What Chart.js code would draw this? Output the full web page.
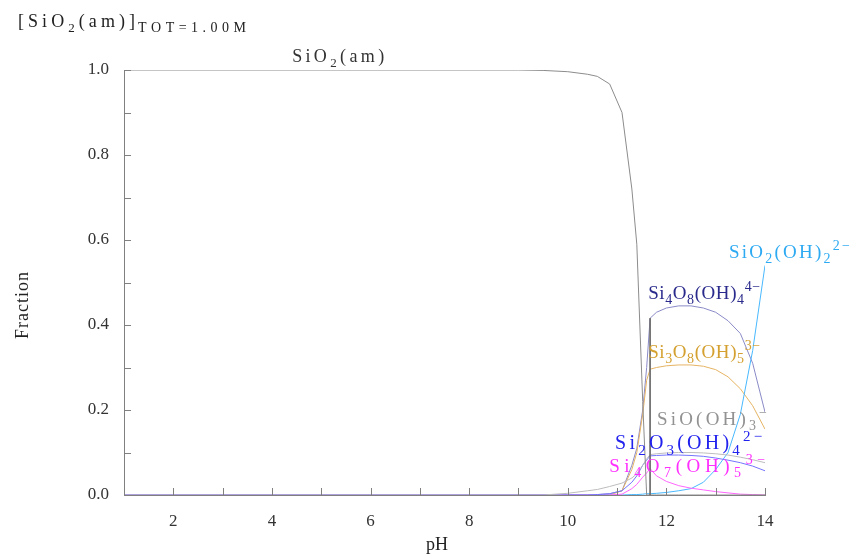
<!DOCTYPE html>
<html>
<head>
<meta charset="utf-8">
<script src="https://cdn.jsdelivr.net/npm/chart.js@4/dist/chart.umd.min.js"></script>
<style>
  html, body { margin: 0; padding: 0; background: #fff; }
  #wrap { width: 856px; height: 555px; position: relative; }
</style>
</head>
<body>
<div id="wrap"><canvas id="speciation"></canvas></div>
<script>
// pH grid shared by every species
const pH = [1, 9, 9.5, 10, 10.4, 10.6, 10.85, 11.1, 11.3, 11.4, 11.52, 11.6, 11.67, 11.8, 12, 12.25, 12.5, 12.75, 13, 13.25, 13.5, 13.75, 14];

// fractions
const sio2am   = [1, 1, 0.999, 0.996, 0.99, 0.985, 0.967, 0.9, 0.72, 0.59, 0.22, 0, 0, 0, 0, 0, 0, 0, 0, 0, 0, 0, 0];
const si4o8    = [0, 0, 0, 0, 0, 0.001, 0.003, 0.01, 0.07, 0.11, 0.2, 0.3, 0.416, 0.43, 0.44, 0.445, 0.445, 0.44, 0.43, 0.41, 0.38, 0.31, 0.195];
const si3o8    = [0, 0, 0, 0, 0, 0, 0, 0.01, 0.06, 0.1, 0.19, 0.27, 0.296, 0.3, 0.304, 0.306, 0.306, 0.303, 0.295, 0.278, 0.25, 0.21, 0.155];
const sio2oh2  = [0, 0, 0, 0, 0, 0, 0, 0, 0.001, 0.001, 0.002, 0.003, 0.003, 0.004, 0.006, 0.01, 0.015, 0.03, 0.06, 0.1, 0.19, 0.34, 0.54];
const siooh3   = [0, 0, 0, 0.004, 0.01, 0.013, 0.02, 0.028, 0.04, 0.05, 0.07, 0.085, 0.095, 0.097, 0.099, 0.1, 0.1, 0.099, 0.097, 0.094, 0.089, 0.083, 0.076];
const si2o3    = [0, 0, 0, 0, 0, 0.001, 0.003, 0.01, 0.03, 0.045, 0.07, 0.082, 0.092, 0.093, 0.094, 0.094, 0.093, 0.091, 0.087, 0.082, 0.076, 0.068, 0.057];
const si4o7    = [0, 0, 0, 0, 0, 0, 0, 0.002, 0.015, 0.025, 0.042, 0.052, 0.062, 0.045, 0.032, 0.022, 0.016, 0.012, 0.008, 0.005, 0.002, 0.001, 0];

// vertical marker where the solid disappears
const boundaryPH = [11.67, 11.67];
const boundaryFrac = [0.416, 0];

// axis ticks
const xTicks = [1, 2, 3, 4, 5, 6, 7, 8, 9, 10, 11, 12, 13, 14];
const xLabels = [2, 4, 6, 8, 10, 12, 14];

const FONT = '"Liberation Serif", "DejaVu Serif", serif';

// series: [pH values, fractions, line colour]
const series = [
  [boundaryPH, boundaryFrac, "#6e6e6e"],
  [pH, sio2am, "#8c8c8c"],
  [pH, siooh3, "#bdbdbd"],
  [pH, si2o3, "#7474ff"],
  [pH, si4o7, "#ff66ff"],
  [pH, sio2oh2, "#48b8ff"],
  [pH, si3o8, "#e6b464"],
  [pH, si4o8, "#8a8ac8"]
];

// labels: parts [text, 0 normal / -1 sub / 1 sup], anchor pH, anchor fraction, colour, font size, text width
const labels = [
  [[["SiO", 0], ["2", -1], ["(am)", 0]], 4.41, 1.019, "#333333", 18, 92],
  [[["SiO", 0], ["2", -1], ["(OH)", 0], ["2", -1], ["2−", 1]], 13.27, 0.558, "#2eaaf2", 19, 121],
  [[["Si", 0], ["4", -1], ["O", 0], ["8", -1], ["(OH)", 0], ["4", -1], ["4−", 1]], 11.63, 0.461, "#2a2a8c", 19, 112],
  [[["Si", 0], ["3", -1], ["O", 0], ["8", -1], ["(OH)", 0], ["5", -1], ["3−", 1]], 11.63, 0.322, "#d4a030", 19, 112],
  [[["SiO(OH)", 0], ["3", -1], ["−", 1]], 11.81, 0.165, "#929292", 19, 110],
  [[["Si", 0], ["2", -1], ["O", 0], ["3", -1], ["(OH)", 0], ["4", -1], ["2−", 1]], 10.96, 0.108, "#2222ee", 20, 147],
  [[["Si", 0], ["4", -1], ["O", 0], ["7", -1], ["(OH)", 0], ["5", -1], ["3−", 1]], 10.84, 0.054, "#ff30ff", 19, 156]
];

// draw text with sub/superscripts, spreading letters to a given width
function drawRich(ctx, parts, x, y, size, color, width) {
  const glyphs = [];
  parts.forEach(([txt, mode]) => {
    const fs = mode === 0 ? size : Math.round(size * 0.74);
    const dy = mode === -1 ? size * 0.28 : mode === 1 ? -size * 0.42 : 0;
    ctx.font = fs + "px " + FONT;
    for (const ch of txt) glyphs.push([ch, ctx.font, dy, ctx.measureText(ch).width]);
  });
  const natural = glyphs.reduce((s, g) => s + g[3], 0);
  const gap = glyphs.length > 1 ? Math.max(0, (width - natural) / (glyphs.length - 1)) : 0;
  let cx = x;
  ctx.fillStyle = color;
  ctx.textBaseline = "alphabetic";
  ctx.textAlign = "left";
  glyphs.forEach(([ch, font, dy, w]) => {
    ctx.font = font;
    ctx.fillText(ch, cx, y + dy);
    cx += w + gap;
  });
  return cx;
}

// inward tick marks, curve labels, axis titles and heading
const decor = {
  id: "decor",
  afterDraw(chart) {
    const { ctx, scales: { x, y } } = chart;
    ctx.save();
    ctx.strokeStyle = "#808080";
    ctx.lineWidth = 1;
    ctx.beginPath();
    xTicks.forEach(v => {
      const px = Math.round(x.getPixelForValue(v)) + 0.5;
      ctx.moveTo(px, y.bottom);
      ctx.lineTo(px, y.bottom - 7);
    });
    for (let i = 0; i <= 10; i++) {
      const py = Math.round(y.getPixelForValue(i / 10)) + 0.5;
      ctx.moveTo(x.left, py);
      ctx.lineTo(x.left + 7, py);
    }
    ctx.stroke();

    labels.forEach(([parts, ph, fr, col, size, w]) => {
      drawRich(ctx, parts, x.getPixelForValue(ph), y.getPixelForValue(fr), size, col, w);
    });

    // heading
    drawRich(ctx, [["[SiO", 0], ["2", -1], ["(am)]", 0]], 18, 27, 18, "#222222", 117);
    drawRich(ctx, [["TOT=1.00M", 0]], 138, 32, 14, "#222222", 108);

    // axis titles
    ctx.fillStyle = "#222";
    ctx.font = "18px " + FONT;
    ctx.textAlign = "center";
    ctx.textBaseline = "middle";
    ctx.fillText("pH", 437, 545);
    ctx.translate(23, 305);
    ctx.rotate(-Math.PI / 2);
    ctx.letterSpacing = "1px";
    ctx.fillText("Fraction", 0, 0);
    ctx.restore();
  }
};

new Chart(document.getElementById("speciation"), {
  type: "scatter",
  data: {
    datasets: series.map(([xs, vals, col]) => ({
      data: xs.map((p, i) => ({ x: p, y: vals[i] })),
      showLine: true,
      borderColor: col,
      borderWidth: 1,
      pointRadius: 0,
      tension: 0
    }))
  },
  options: {
    responsive: true,
    maintainAspectRatio: false,
    animation: false,
    layout: { padding: { top: 70, right: 91, left: 0, bottom: 0 } },
    plugins: { legend: { display: false }, tooltip: { enabled: false } },
    scales: {
      x: {
        type: "linear",
        min: 1,
        max: 14,
        afterFit: s => { s.height = 60; },
        afterBuildTicks: s => { s.ticks = xTicks.map(v => ({ value: v })); },
        grid: { display: false, drawTicks: false },
        border: { display: true, color: "#808080", width: 1 },
        ticks: {
          padding: 16,
          color: "#333",
          font: { family: FONT, size: 17 },
          callback: v => (xLabels.includes(v) ? String(v) : "")
        }
      },
      y: {
        min: 0,
        max: 1,
        afterFit: s => { s.width = 124; },
        grid: { display: false, drawTicks: false },
        border: { display: true, color: "#808080", width: 1 },
        ticks: {
          stepSize: 0.2,
          padding: 15,
          color: "#333",
          font: { family: FONT, size: 17 },
          callback: v => v.toFixed(1)
        }
      }
    }
  },
  plugins: [decor]
});
</script>
</body>
</html>
